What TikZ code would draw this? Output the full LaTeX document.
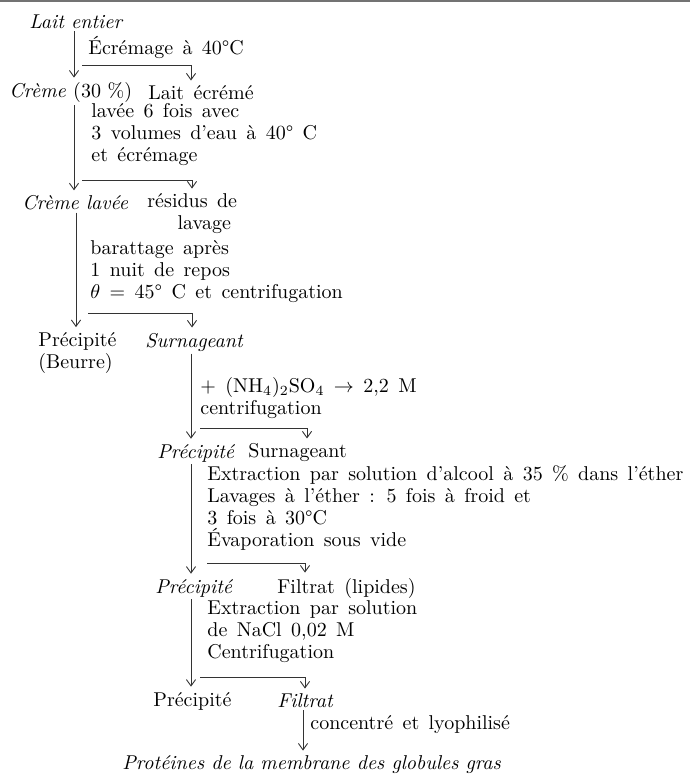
\documentclass[tikz,border=0pt]{standalone}
\usepackage{tikz}
\usetikzlibrary{arrows.meta}
\newcommand\widesp{\spaceskip=4.7pt\relax}
\tikzset{
  txt/.style = {anchor=west, inner sep=1pt, align=left,
                font=\fontsize{10pt}{11pt}\selectfont\widesp},
  itx/.style = {txt, font=\fontsize{10pt}{11pt}\selectfont\itshape},
  fl/.style  = {-{Straight Barb[length=3.2pt,width=4.6pt]}, draw=black!80,
                line width=0.45pt, shorten >=1.5pt},
}

\begin{document}
\begin{tikzpicture}[x=0.5pt, y=-0.5pt]
  \useasboundingbox (0,0) rectangle (690,780);
  \draw[black!55, line width=1.1pt] (0,0.6) -- (690,0.6);

  % ---- products and steps --------------------------------------------------
  \node[itx] (lait)   at (27,22)   {Lait entier};
  \node[txt] (op1)    at (86,47)   {Écrémage à 40°C};
  \node[itx] (creme)  at (7,93)    {Crème \textup{(30 \%)}};
  \node[txt] (ecreme) at (146,93)  {Lait écrémé};
  \node[txt] (op2)    at (89,135)  {lavée 6 fois avec\\3 volumes d'eau à 40° C\\et écrémage};
  \node[itx] (cremel) at (20,203)  {Crème lavée};
  \node[txt, align=center] (residus) at (145,214) {résidus de\\\hspace*{1.2em}lavage};
  \node[txt] (op3)    at (88,272)  {barattage après\\1 nuit de repos\\$\theta$ = 45° C et centrifugation};
  \node[txt] (beurre) at (36,353)  {Précipité\\(Beurre)};
  \node[itx] (surn1)  at (143,342) {Surnageant};
  \node[txt] (op4)    at (198,398) {$+$ (NH$_4$)$_2$SO$_4$ $\rightarrow$ 2,2 M\\centrifugation};
  \node[itx] (prec2)  at (155,453) {Précipité};
  \node[txt] (surn2)  at (246,453) {Surnageant};
  \node[txt] (op5)    at (205,508) {Extraction par solution d'alcool à 35 \% dans l'éther\\Lavages à l'éther : 5 fois à froid et\\3 fois à 30°C\\Évaporation sous vide};
  \node[itx] (prec3)  at (153,588) {Précipité};
  \node[txt] (lipid)  at (275,588) {Filtrat (lipides)};
  \node[txt] (op6)    at (205,632) {Extraction par solution\\de NaCl 0,02 M\\Centrifugation};
  \node[txt] (prec4)  at (151,701) {Précipité};
  \node[itx] (filt)   at (275,701) {Filtrat};
  \node[txt] (op7)    at (308,725) {concentré et lyophilisé};
  \node[itx] (prot)   at (120,765) {Protéines de la membrane des globules gras};

  % ---- junctions -----------------------------------------------------------
  \coordinate (v1) at (74,0);   \coordinate (h1) at (82,65);   \coordinate (r1) at (191,0);
  \coordinate (v2) at (74,0);   \coordinate (h2) at (82,180);  \coordinate (r2) at (192,0);
  \coordinate (v3) at (76,0);   \coordinate (h3) at (88,313);  \coordinate (r3) at (192,0);
  \coordinate (v4) at (191,0);  \coordinate (h4) at (200,428); \coordinate (r4) at (307,0);
  \coordinate (v5) at (191,0);  \coordinate (h5) at (207,563); \coordinate (r5) at (305,0);
  \coordinate (v6) at (191,0);  \coordinate (h6) at (200,677); \coordinate (r6) at (305,0);
  \coordinate (v7) at (303,0);

  % ---- connectors ----------------------------------------------------------
  \draw[fl] (lait.south -| v1)   -- (creme.north -| v1);
  \draw[fl] (h1) -| (ecreme.north -| r1);
  \draw[fl] (creme.south -| v2)  -- (cremel.north -| v2);
  \draw[fl] (h2) -| (residus.north -| r2);
  \draw[fl] (cremel.south -| v3) -- (beurre.north -| v3);
  \draw[fl] (h3) -| (surn1.north -| r3);
  \draw[fl] (surn1.south -| v4)  -- (prec2.north -| v4);
  \draw[fl] (h4) -| (surn2.north -| r4);
  \draw[fl] (prec2.south -| v5)  -- (prec3.north -| v5);
  \draw[fl] (h5) -| (lipid.north -| r5);
  \draw[fl] (prec3.south -| v6)  -- (prec4.north -| v6);
  \draw[fl] (h6) -| (filt.north -| r6);
  \draw[fl] (filt.south -| v7)   -- (prot.north -| v7);
\end{tikzpicture}
\end{document}
